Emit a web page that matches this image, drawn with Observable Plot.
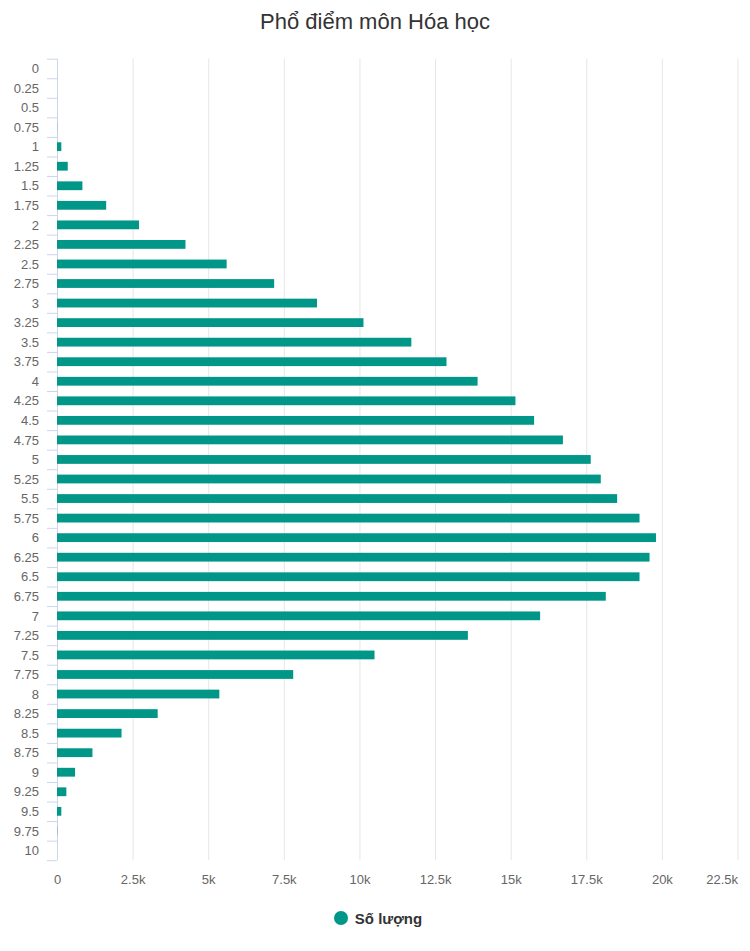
<!DOCTYPE html>
<html>
<head>
<meta charset="utf-8">
<script src="https://cdn.jsdelivr.net/npm/d3@7"></script>
<script src="https://cdn.jsdelivr.net/npm/@observablehq/plot@0.6"></script>
<style>
  html, body { margin: 0; padding: 0; background: #fff; }
  body { width: 750px; font-family: "Liberation Sans", Arial, Helvetica, sans-serif; }
  #title { height: 44px; line-height: 44px; text-align: center; font-size: 22px; color: #333; }
  #legend { height: 36px; display: flex; justify-content: center; align-items: center; padding-left: 6px; }
  #legend .dot { width: 14px; height: 14px; border-radius: 50%; background: #009688; margin-right: 7px; }
  #legend .lbl { font-size: 15px; font-weight: bold; color: #333; }
</style>
</head>
<body>
<div id="title">Phổ điểm môn Hóa học</div>
<div id="chart"></div>
<div id="legend"><span class="dot"></span><span class="lbl">Số lượng</span></div>
<script>
// Scores (categories)
const scores = [0, 0.25, 0.5, 0.75, 1, 1.25, 1.5, 1.75, 2, 2.25, 2.5, 2.75, 3, 3.25, 3.5, 3.75,
  4, 4.25, 4.5, 4.75, 5, 5.25, 5.5, 5.75, 6, 6.25, 6.5, 6.75, 7, 7.25, 7.5, 7.75,
  8, 8.25, 8.5, 8.75, 9, 9.25, 9.5, 9.75, 10];
// Number of students ("Số lượng") per score
const counts = [0, 0, 0, 5, 143, 355, 840, 1626, 2712, 4248, 5609, 7180, 8596, 10133, 11716, 12878,
  13906, 15158, 15775, 16727, 17647, 17979, 18520, 19260, 19804, 19592, 19260, 18145, 15974, 13585, 10498, 7810,
  5367, 3329, 2134, 1172, 597, 309, 143, 8, 0];
// x-axis ticks
const xTicks = [0, 2500, 5000, 7500, 10000, 12500, 15000, 17500, 20000, 22500];

const data = scores.map((s, i) => ({score: s, count: counts[i]}));

const W = 750, H = 856, mt = 14.7, mb = 39.8, ml = 57, mr = 12.5;
const step = (H - mt - mb) / scores.length;
const kfmt = d => d === 0 ? "0" : (d / 1000) + "k";

const chart = Plot.plot({
  width: W,
  height: H,
  marginTop: mt,
  marginBottom: mb,
  marginLeft: ml,
  marginRight: mr,
  style: { fontFamily: "'Liberation Sans', Arial, Helvetica, sans-serif", background: "#fff" },
  x: { domain: [0, 22500], axis: null, label: null },
  y: { domain: scores, paddingInner: 0.55, paddingOuter: 0.275, round: false, axis: null, label: null },
  marks: [
    Plot.ruleX(xTicks.slice(1), { stroke: "#e6e6e6", strokeWidth: 1 }),
    Plot.ruleX([0], { stroke: "#ccd6eb", strokeWidth: 1 }),
    // category boundary ticks on the left axis
    Plot.axisY({ anchor: "left", label: null, tickSize: 10, tickFormat: () => "", dy: step / 2, stroke: "#ccd6eb", strokeOpacity: 1 }),
    Plot.axisY([scores[0]], { anchor: "left", label: null, tickSize: 10, tickFormat: () => "", dy: -step / 2, stroke: "#ccd6eb", strokeOpacity: 1 }),
    // category labels
    Plot.axisY({ anchor: "left", label: null, tickSize: 0, tickPadding: 18.5, tickFormat: d => String(d), fontSize: 13, fill: "#666" }),
    Plot.barX(data, { x: "count", y: "score", fill: "#009688" }),
    // x tick labels
    Plot.axisX(xTicks.slice(0, -1), { anchor: "bottom", label: null, tickSize: 0, tickPadding: 14, tickFormat: kfmt, fontSize: 13, fill: "#666" }),
    Plot.axisX(xTicks.slice(-1), { anchor: "bottom", label: null, tickSize: 0, tickPadding: 14, tickFormat: kfmt, fontSize: 13, fill: "#666", textAnchor: "end" })
  ]
});
document.getElementById("chart").appendChild(chart);
</script>
</body>
</html>
